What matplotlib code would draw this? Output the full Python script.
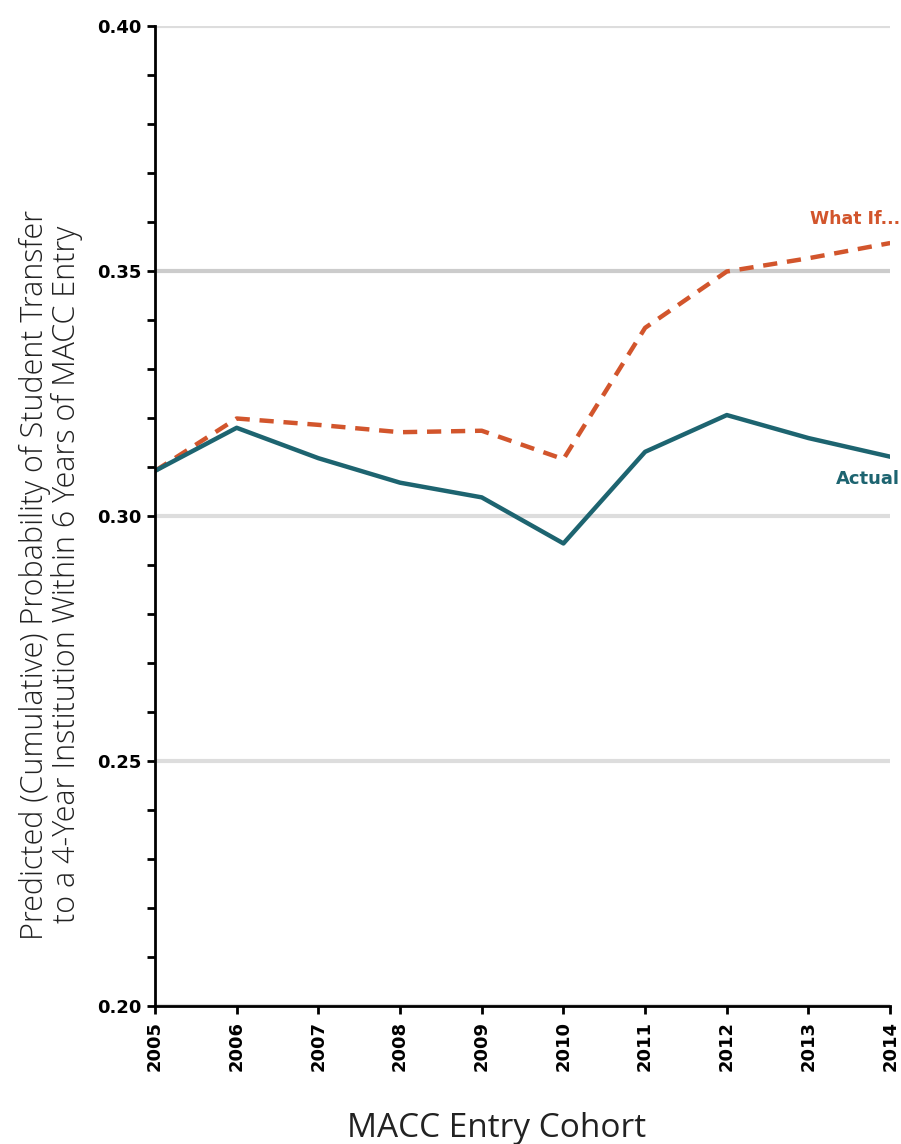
import numpy as np
import matplotlib
matplotlib.use("Agg")
import matplotlib.pyplot as plt
from matplotlib.ticker import MultipleLocator

# 各世代的預測轉學機率
years = [2005, 2006, 2007, 2008, 2009, 2010, 2011, 2012, 2013, 2014]
actual = [0.3092, 0.3180, 0.3118, 0.3068, 0.3038, 0.2944, 0.3131, 0.3206, 0.3159, 0.3121]
what_if = [0.3092, 0.3199, 0.3186, 0.3171, 0.3174, 0.3116, 0.3384, 0.3499, 0.3526, 0.3557]
y_ticks = [0.20, 0.25, 0.30, 0.35, 0.40]

teal = "#1d6470"
orange = "#d2552c"

plt.rcParams["font.family"] = ["DejaVu Sans"]

fig = plt.figure(figsize=(9.01, 11.44), dpi=100)
ax = fig.add_axes([0.172, 0.1206, 0.816, 0.8567])

ax.plot(years, what_if, color=orange, linewidth=3.2, linestyle=(0, (3.2, 2.2)))
ax.plot(years, actual, color=teal, linewidth=3.2)

ax.set_xlim(2005, 2014)
ax.set_ylim(0.20, 0.40)
ax.yaxis.set_minor_locator(MultipleLocator(0.01))
ax.set_xticks(years)
ax.set_xticklabels([str(y) for y in years], rotation=90, fontsize=13, fontweight="bold")
ax.set_yticks(y_ticks)
ax.set_yticklabels([f"{v:.2f}" for v in y_ticks], fontsize=13, fontweight="bold")

ax.grid(axis="y", which="major", color="#dddddd", linewidth=3, zorder=0)
ax.get_ygridlines()[3].set_color("#cccccc")   # 0.35 那條顏色稍深
ax.set_axisbelow(True)
for s in ["top", "right"]:
    ax.spines[s].set_visible(False)
for s in ["left", "bottom"]:
    ax.spines[s].set_linewidth(2)
ax.tick_params(axis="both", which="both", length=6, width=2, direction="out")
ax.tick_params(axis="x", pad=5)

ax.set_xlabel("MACC Entry Cohort", fontsize=24,
              family=["Open Sans", "DejaVu Sans"], color="#222222")
ax.xaxis.set_label_coords(0.464, -0.108)
ax.set_ylabel("Predicted (Cumulative) Probability of Student Transfer\n"
              "to a 4-Year Institution Within 6 Years of MACC Entry",
              fontsize=22, fontweight="light", family=["Open Sans", "DejaVu Sans"],
              linespacing=1.0, color="#222222")
ax.yaxis.set_label_coords(-0.098, 0.44)

ax.annotate("What If...", xy=(years[-1], what_if[-1]), xytext=(7, 17),
            textcoords="offset points", ha="right", va="center",
            color=orange, fontsize=12.5, fontweight="bold", annotation_clip=False)
ax.annotate("Actual", xy=(years[-1], actual[-1]), xytext=(7, -16),
            textcoords="offset points", ha="right", va="center",
            color=teal, fontsize=13, fontweight="bold", annotation_clip=False)

fig.savefig("out.png", dpi=100)
